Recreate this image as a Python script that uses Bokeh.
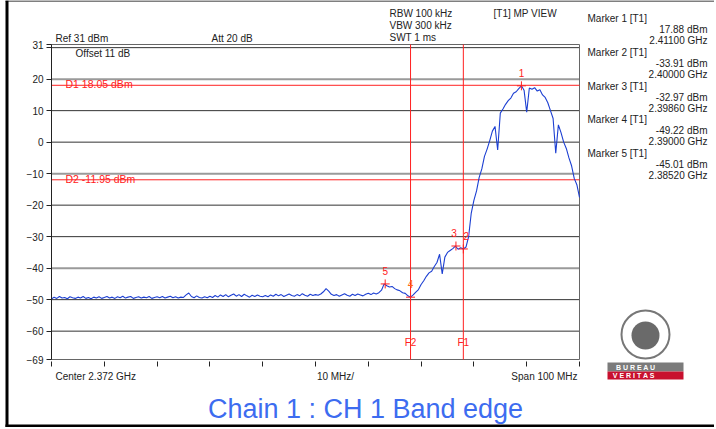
import numpy as np
from bokeh.plotting import figure
from bokeh.models import Label, FixedTicker, LinearAxis, CustomJSTickFormatter
from bokeh.embed import file_html
from bokeh.resources import INLINE
from bokeh.core.properties import value

# ---------------- data ----------------
center_ghz = 2.372
span_mhz = 100
start_ghz = 2.322
stop_ghz = 2.422
ref_level = 31
bottom_level = -69

trace_dbm = [
    -49.8, -49.2, -49.6, -49.0, -49.5, -49.3, -49.7, -49.1, -49.4, -49.6, -49.2, -49.5, -49.0, -49.6, -49.3, -49.7, -49.2, -49.5, -49.1, -49.6, -49.3,
    -49.0, -49.5, -49.2, -49.6, -49.1, -49.4, -48.9, -49.5, -49.2, -49.0, -49.6, -49.3, -49.1, -49.5, -49.2, -49.4, -49.0, -49.6, -49.3, -49.1,
    -49.4, -49.0, -49.5, -49.2, -48.9, -49.4, -49.1, -49.5, -49.2, -49.3, -48.5, -47.9, -49.0, -49.4, -48.8, -49.3, -49.5, -49.1, -49.4, -48.9,
    -49.3, -48.7, -49.2, -48.5, -49.0, -48.4, -49.1, -48.6, -48.2, -48.9, -48.4, -49.0, -48.3, -48.8, -49.2, -48.6, -49.0, -48.5, -48.9, -49.1,
    -48.7, -49.1, -48.5, -48.9, -48.3, -48.8, -48.4, -49.0, -48.6, -48.2, -48.7, -48.9, -48.4, -48.8, -48.1, -48.6, -48.9, -48.3, -48.7, -48.4,
    -48.6, -48.2, -47.5, -46.5, -47.3, -48.3, -48.7, -48.4, -48.9, -48.5, -48.1, -48.6, -48.9, -48.3, -48.7, -48.2, -48.5, -48.8, -48.3, -48.0,
    -48.4, -47.9, -48.2, -47.8, -47.0, -45.0, -45.6, -46.0, -45.8, -46.5, -46.9, -47.2, -47.8, -48.0, -48.8, -49.2, -48.5, -47.6, -46.8, -45.2,
    -44.0, -42.6, -41.5, -41.0, -39.5, -38.2, -35.6, -41.8, -36.5, -35.0, -34.4, -33.8, -33.0, -34.0, -33.5, -33.9, -33.3, -30.0, -22.5, -18.5,
    -15.5, -11.2, -8.5, -4.5, -2.2, 0.5, 3.5, 5.0, -2.5, 9.2, 10.5, 12.0, 13.2, 14.0, 15.5, 16.0, 17.0, 17.9, 16.5, 9.5,
    17.2, 16.8, 17.3, 16.2, 16.6, 15.0, 14.2, 12.5, 10.0, 7.5, -3.5, 5.5, 3.0, 0.0, -2.0, -5.0, -7.5, -11.5, -13.5, -17.5,
]
freqs_ghz = np.linspace(start_ghz, stop_ghz, len(trace_dbm))

marker_ids = ["1", "2", "3", "4", "5"]
marker_freq_ghz = [2.41100, 2.40000, 2.39860, 2.39000, 2.38520]
marker_dbm = [17.88, -33.91, -32.97, -49.22, -45.01]

display_line_names = ["D1", "D2"]
display_line_dbm = [18.05, -11.95]
freq_line_names = ["F1", "F2"]
freq_line_ghz = [2.400, 2.390]

y_ticks = [31, 30, 20, 10, 0, -10, -20, -30, -40, -50, -60, -69]
dark_grid = [30, 10, 0, -20, -30, -50, -60]
light_grid = [20, -10, -40]
x_ticks = [start_ghz + k * 0.010 for k in range(11)]

header_left = [("Ref 31 dBm", 55, 38), ("Att  20 dB", 211, 38),
               ("RBW 100 kHz", 389, 13), ("VBW 300 kHz", 389, 25),
               ("SWT 1 ms", 389, 37), ("[T1] MP VIEW", 493, 13)]
title_text = "Chain 1 : CH 1 Band edge"

FONT = "Liberation Sans"
RED = "#ff2020"
INK = "#222222"

# ---------------- layout constants (pixels) ----------------
W, H = 714, 427
FL, FT = 51, 44            # spectrum area position inside the canvas
fw, fh = 528, 315          # spectrum area size
kx = (stop_ghz - start_ghz) / fw
ky = (ref_level - bottom_level) / fh
x_rng = (start_ghz - FL * kx, start_ghz + (W - FL) * kx)
y_rng = (ref_level - (H - FT) * ky, ref_level + FT * ky)

p = figure(width=W, height=H, x_range=x_rng, y_range=y_rng,
           x_axis_location=None, y_axis_location=None, min_border=0,
           output_backend="svg", toolbar_location=None,
           background_fill_color="white", border_fill_color="white")
p.outline_line_color = None
p.grid.visible = False


def gx(px):
    return start_ghz + (px - FL) * kx


def gy(py):
    return ref_level - (py - FT) * ky


# page frame (screenshot border)
p.quad(left=gx(5), right=gx(8), bottom=gy(427), top=gy(0), fill_color="black", line_color=None)
p.quad(left=gx(5), right=gx(W), bottom=gy(1), top=gy(0), fill_color="black", line_color=None)
p.quad(left=gx(5), right=gx(W), bottom=gy(427), top=gy(424), fill_color="black", line_color=None)

# grid lines of the spectrum area
p.segment(x0=start_ghz, x1=stop_ghz, y0=dark_grid, y1=dark_grid, line_color="#333333", line_width=1)
p.segment(x0=start_ghz, x1=stop_ghz, y0=light_grid, y1=light_grid, line_color="#9a9a9a", line_width=2)
p.quad(left=start_ghz, right=stop_ghz, bottom=bottom_level, top=ref_level,
       fill_color=None, line_color="#666666", line_width=1)

# axes drawn at the spectrum area edges
yaxis = LinearAxis(ticker=FixedTicker(ticks=y_ticks), fixed_location=start_ghz,
                   bounds=(bottom_level, ref_level), major_label_overrides={30: ""})
yaxis.major_label_text_font = FONT
yaxis.major_label_text_font_size = "10px"
yaxis.major_label_text_color = INK
yaxis.major_tick_out = 5
yaxis.major_tick_in = 0
yaxis.minor_tick_out = 0
yaxis.minor_tick_in = 0
yaxis.major_label_standoff = 3
yaxis.axis_line_color = INK
yaxis.major_tick_line_color = INK
p.add_layout(yaxis, "left")

xaxis = LinearAxis(ticker=FixedTicker(ticks=x_ticks), fixed_location=bottom_level,
                   bounds=(start_ghz, stop_ghz),
                   formatter=CustomJSTickFormatter(code="return ''"))
xaxis.axis_line_color = None
xaxis.major_tick_out = 7
xaxis.major_tick_in = -2
xaxis.minor_tick_out = 0
xaxis.minor_tick_in = 0
xaxis.major_tick_line_color = INK
p.add_layout(xaxis, "below")

# display lines and frequency lines
p.segment(x0=start_ghz, x1=stop_ghz, y0=display_line_dbm, y1=display_line_dbm, line_color=RED, line_width=1)
p.segment(x0=freq_line_ghz, x1=freq_line_ghz, y0=bottom_level, y1=ref_level, line_color=RED, line_width=1)

# trace
p.line(freqs_ghz, trace_dbm, line_color="#1c3fd2", line_width=1.1)

# markers
p.scatter(marker_freq_ghz, marker_dbm, marker="cross", size=9, line_color=RED, line_width=1)
p.text(marker_freq_ghz, marker_dbm, text=marker_ids, y_offset=-9, x_offset=[0, 3, -2, 0, 0],
       text_align="center", text_baseline="bottom",
       text_color=[RED, RED, RED, "#ff6a10", RED],
       text_font=value(FONT), text_font_size="10px")

# display line labels
p.text([gx(65)] * 2, display_line_dbm,
       text=[f"{n} {v:.2f} dBm" for n, v in zip(display_line_names, display_line_dbm)],
       text_align="left", text_baseline="alphabetic", y_offset=-1,
       text_color=RED, text_font=value(FONT), text_font_size="10.5px")

# frequency line labels
p.text(freq_line_ghz, [gy(342)] * 2, text=freq_line_names, text_align="center",
       text_baseline="middle", text_color=RED, text_font=value(FONT), text_font_size="10px")


def lab(text, x, y, align="left", color=INK, size="10px", font=FONT, **kw):
    p.add_layout(Label(x=x, y=y, x_units="canvas", y_units="canvas", text=text,
                       text_align=align, text_baseline="middle",
                       text_color=color, text_font=font, text_font_size=size, **kw))


lab("Offset 11 dB", 75, 53)
for t, x, y in header_left:
    lab(t, x, y)

for k, (mid, f, d) in enumerate(zip(marker_ids, marker_freq_ghz, marker_dbm)):
    y0 = 18 + 33.8 * k
    lab(f"Marker {mid} [T1]", 587, y0)
    lab(f"{d:.2f} dBm", 707, y0 + 11, align="right")
    lab(f"{f:.5f} GHz", 707, y0 + 22, align="right")

lab(f"Center {center_ghz} GHz", 55, 376)
lab("10 MHz/", 335, 376, align="center")
lab(f"Span {span_mhz} MHz", 577, 376, align="right")

lab(title_text, 365, 408, align="center", color="#3d6cf0", size="27px")

# logo (decoration)
p.scatter([gx(645)], [gy(334)], marker="circle", size=48, fill_color="white",
          line_color="#777777", line_width=2)
p.scatter([gx(645)], [gy(335)], marker="circle", size=28, fill_color="#6a6a6a", line_color=None)
p.quad(left=gx(607), right=gx(683), top=gy(362), bottom=gy(371), fill_color="#7b7b7b", line_color=None)
p.quad(left=gx(607), right=gx(683), top=gy(371), bottom=gy(379), fill_color="#c8102e", line_color=None)
lab("B   U   R   E   A   U", 645, 366.5, align="center", color="white", size="7px",
    text_font_style="bold")
lab("V   E   R   I   T   A   S", 645, 375, align="center", color="white", size="7px",
    text_font_style="bold")

open("out.html", "w").write(file_html(p, INLINE))
